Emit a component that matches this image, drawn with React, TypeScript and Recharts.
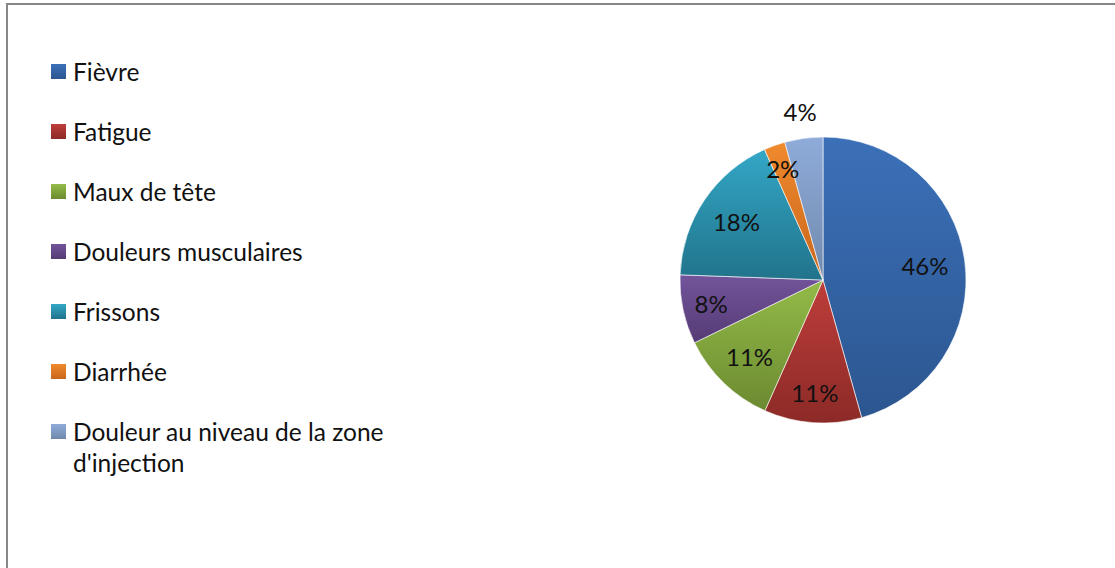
import React from 'react';
import { PieChart, Pie, Cell } from 'recharts';

const categories = [
  'Fièvre',
  'Fatigue',
  'Maux de tête',
  'Douleurs musculaires',
  'Frissons',
  'Diarrhée',
  "Douleur au niveau de la zone d'injection",
];
const values = [45.6, 11.0, 11.1, 7.8, 17.7, 2.4, 4.3];

// light / dark stops of the Excel-style gradient fill
const lightColors = ['#3b70b8', '#be3e3a', '#93bb48', '#72549b', '#33a7c6', '#f08a2e', '#8fabd9'];
const darkColors = ['#2c5690', '#8c2a27', '#6c8a31', '#553b75', '#21738b', '#c8661b', '#7089ad'];

// label distance from centre, as a share of the radius
const labelRadius = [0.72, 0.79, 0.74, 0.8, 0.73, 0.83, 1.19];

const data = categories.map((name, i) => ({ name, value: values[i] }));

const RAD = Math.PI / 180;
const FONT = 'Lato, sans-serif';

const renderLabel = (props: any) => {
  const { cx, cy, midAngle, outerRadius, percent, index } = props;
  const r = outerRadius * labelRadius[index];
  const x = cx + r * Math.cos(-midAngle * RAD);
  const y = cy + r * Math.sin(-midAngle * RAD);
  return (
    <text
      x={x}
      y={y}
      fill="#111"
      textAnchor="middle"
      dominantBaseline="central"
      style={{ fontFamily: FONT, fontSize: 24 }}
    >
      {`${Math.round(percent * 100)}%`}
    </text>
  );
};

function ChartLegend() {
  return (
    <div
      style={{
        position: 'absolute',
        left: 51,
        top: 56,
        fontFamily: FONT,
        fontSize: 24.5,
        color: '#111',
      }}
    >
      {categories.map((name, i) => (
        <div
          key={`leg-${i}`}
          style={{ display: 'flex', alignItems: 'flex-start', lineHeight: '31px', marginBottom: 29 }}
        >
          <span
            style={{
              display: 'inline-block',
              width: 15,
              height: 15,
              marginTop: 8,
              marginRight: 7,
              flex: 'none',
              background: `linear-gradient(${lightColors[i]}, ${darkColors[i]})`,
            }}
          />
          <span style={{ width: 330 }}>{name}</span>
        </div>
      ))}
    </div>
  );
}

export default function App() {
  return (
    <div
      style={{
        position: 'absolute',
        left: 0,
        top: 0,
        width: 1115,
        height: 568,
        overflow: 'hidden',
        background: '#fff',
      }}
    >
      <div
        style={{
          position: 'absolute',
          left: 6,
          top: 3,
          width: 1200,
          height: 700,
          border: '2px solid #878787',
          boxSizing: 'border-box',
        }}
      />
      <div style={{ position: 'absolute', left: 0, top: 0 }}>
        <PieChart width={1115} height={568} margin={{ top: 0, right: 0, bottom: 0, left: 0 }}>
          <defs>
            {lightColors.map((c, i) => (
              <linearGradient key={`g-${i}`} id={`slice-${i}`} x1="0" y1="0" x2="0" y2="1">
                <stop offset="0%" stopColor={c} />
                <stop offset="100%" stopColor={darkColors[i]} />
              </linearGradient>
            ))}
          </defs>
          <Pie
            data={data}
            dataKey="value"
            nameKey="name"
            cx={823}
            cy={280}
            outerRadius={143}
            startAngle={90}
            endAngle={-270}
            stroke="#ffffff"
            strokeWidth={0.6}
            label={renderLabel}
            labelLine={false}
            isAnimationActive={false}
          >
            {data.map((_, i) => (
              <Cell key={`cell-${i}`} fill={`url(#slice-${i})`} />
            ))}
          </Pie>
        </PieChart>
      </div>
      <ChartLegend />
    </div>
  );
}
